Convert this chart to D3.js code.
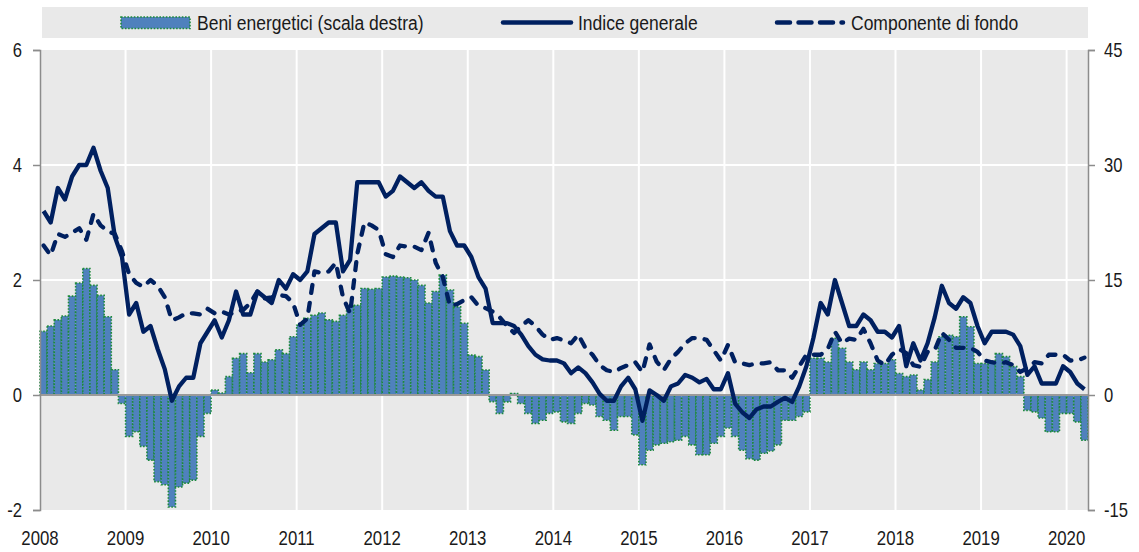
<!DOCTYPE html>
<html>
<head>
<meta charset="utf-8">
<script src="https://cdn.jsdelivr.net/npm/d3@7"></script>
<style>
body { margin: 0; background: #fff; }
text { font-family: "Liberation Sans", Arial, sans-serif; fill: #1a1a1a; }
</style>
</head>
<body>
<svg id="chart" width="1139" height="552"></svg>
<script>
// monthly data, Jan 2008 - Mar 2020 (one row per year)
var indiceGenerale = [
  3.2, 3.0, 3.6, 3.4, 3.8, 4.0, 4.0, 4.3, 3.9, 3.6, 2.75, 2.4,
  1.4, 1.6, 1.1, 1.2, 0.8, 0.45, -0.1, 0.15, 0.3, 0.3, 0.9, 1.1,
  1.3, 1.0, 1.3, 1.8, 1.4, 1.4, 1.8, 1.7, 1.6, 2.0, 1.85, 2.1,
  2.0, 2.15, 2.8, 2.9, 3.0, 3.0, 2.15, 2.35, 3.7, 3.7, 3.7, 3.7,
  3.45, 3.55, 3.8, 3.7, 3.6, 3.7, 3.55, 3.45, 3.45, 2.85, 2.6, 2.6,
  2.4, 2.05, 1.85, 1.25, 1.25, 1.25, 1.2, 1.05, 0.85, 0.7, 0.62, 0.6,
  0.6, 0.55, 0.38, 0.48, 0.38, 0.22, 0.02, -0.1, -0.1, 0.15, 0.3, 0.1,
  -0.45, 0.08, 0.0, -0.1, 0.15, 0.2, 0.35, 0.3, 0.22, 0.28, 0.1, 0.1,
  0.38, -0.15, -0.3, -0.4, -0.25, -0.2, -0.2, -0.12, -0.05, -0.12, 0.15, 0.5,
  1.0, 1.6, 1.4, 2.0, 1.6, 1.2, 1.2, 1.4, 1.3, 1.1, 1.1, 1.0,
  1.2, 0.5, 0.9, 0.6, 0.9, 1.35, 1.9, 1.6, 1.5, 1.7, 1.6, 1.2,
  0.9, 1.1, 1.1, 1.1, 1.05, 0.85, 0.35, 0.5, 0.2, 0.2, 0.2, 0.5,
  0.4, 0.2, 0.1
];
var componenteFondo = [
  2.6, 2.43, 2.8, 2.75, 2.82, 2.9, 2.7, 3.15, 2.95, 2.85, 2.8, 2.5,
  2.1, 1.95, 1.88, 2.0, 1.9, 1.7, 1.3, 1.35, 1.42, 1.42, 1.4, 1.5,
  1.42, 1.45, 1.4, 1.45, 1.48, 1.6, 1.8, 1.68, 1.7, 1.74, 1.72, 1.6,
  1.22, 1.33, 2.15, 2.12, 2.15, 2.3, 1.7, 1.42, 2.45, 3.0, 2.95, 2.87,
  2.45, 2.4, 2.6, 2.58, 2.58, 2.52, 2.82, 2.3, 2.05, 1.55, 1.58, 1.65,
  1.7, 1.55, 1.51, 1.45, 1.35, 1.2, 1.08, 1.2, 1.3, 1.2, 1.05, 0.96,
  0.99, 0.95, 0.9, 1.05, 0.82, 0.7, 0.52, 0.43, 0.4, 0.47, 0.52, 0.57,
  0.4, 0.88, 0.58, 0.43, 0.63, 0.75, 0.9, 0.99, 0.99, 0.96, 0.78, 0.6,
  0.87, 0.57, 0.55, 0.52, 0.55, 0.55, 0.57, 0.43, 0.43, 0.3, 0.5, 0.7,
  0.7, 0.7, 0.8, 1.1, 0.9, 0.98, 0.96, 1.15, 0.9, 0.6, 0.52, 0.7,
  0.8, 0.73, 0.52, 0.49, 0.75, 0.78, 1.08, 0.96, 0.82, 0.82, 0.82, 0.75,
  0.6, 0.57, 0.55, 0.57, 0.52, 0.4, 0.47, 0.57, 0.55, 0.7, 0.7, 0.7,
  0.6, 0.6, 0.65
];
// scala destra
var beniEnergetici = [
  8.3, 9.0, 9.8, 10.3, 12.9, 14.6, 16.5, 14.3, 13.0, 10.2, 3.3, -1.1,
  -5.4, -4.8, -6.7, -8.5, -11.3, -11.7, -14.6, -12.0, -11.5, -11.1, -5.4, -2.4,
  0.65, 0.26, 2.4, 4.8, 5.4, 2.9, 5.4, 4.3, 4.6, 5.9, 5.4, 7.6,
  9.1, 10.0, 10.4, 10.7, 9.8, 9.6, 10.4, 11.5, 11.7, 13.9, 13.8, 13.9,
  15.4, 15.5, 15.4, 15.3, 15.0, 14.3, 12.0, 13.5, 15.65, 13.7, 11.5, 9.35,
  5.2, 5.0, 3.26, -0.87, -2.4, -0.9, 0.2, -1.1, -2.4, -3.7, -3.3, -2.4,
  -2.2, -3.5, -3.7, -2.4, -1.1, -1.3, -2.8, -3.3, -4.6, -2.8, -2.8, -5.2,
  -9.1, -7.2, -6.5, -6.3, -6.1, -5.9, -5.4, -6.5, -7.8, -7.8, -6.3, -5.4,
  -4.3, -5.4, -7.2, -8.3, -8.5, -7.6, -7.3, -6.5, -3.3, -3.3, -2.8, -2.2,
  4.8, 4.8, 4.3, 7.4, 6.1, 4.3, 3.3, 4.3, 3.3, 4.1, 4.1, 4.6,
  2.8, 2.4, 2.6, 0.65, 2.0, 4.3, 7.6, 7.8, 7.6, 10.2, 8.9, 4.1,
  4.1, 4.3, 5.4, 5.0, 3.7, 2.4, -2.0, -2.2, -3.0, -4.8, -4.8, -2.4,
  -2.4, -3.5, -5.9
];
var yearLabels = ["2008","2009","2010","2011","2012","2013","2014","2015","2016","2017","2018","2019","2020"];
var leftTicks = [-2, 0, 2, 4, 6];
var rightTicks = [-15, 0, 15, 30, 45];
var legendLabels = ["Beni energetici (scala destra)", "Indice generale", "Componente di fondo"];

var navy = "#002060", barFill = "#4f81bd", barDots = "#1d8a3a", bg = "#e9e9e9";

var svg = d3.select("#chart");
var plot = {left: 40, right: 1088, top: 50, bottom: 510};

// 147 months (Jan 2008 - Mar 2020) fill the plot width
var x = d3.scaleBand().domain(d3.range(beniEnergetici.length)).range([plot.left, plot.right]).padding(0);
var yL = d3.scaleLinear().domain([-2, 6]).range([plot.bottom, plot.top]);
var yR = d3.scaleLinear().domain([-15, 45]).range([plot.bottom, plot.top]);

// condensed text (Arial Narrow look)
function narrow(g, px, py, anchor, str, sx, size) {
  return g.append("text")
    .attr("transform", "translate(" + px + "," + py + ") scale(" + sx + ",1)")
    .attr("text-anchor", anchor)
    .attr("font-size", size || 20)
    .text(str);
}

// legend band
svg.append("rect").attr("x", 42).attr("y", 7).attr("width", 1046).attr("height", 31).attr("fill", bg);

// plot background
svg.append("rect").attr("x", plot.left).attr("y", plot.top)
  .attr("width", plot.right - plot.left).attr("height", plot.bottom - plot.top).attr("fill", bg);

// gridlines
svg.append("g").selectAll("line").data([2, 4])
  .enter().append("line")
  .attr("x1", plot.left).attr("x2", plot.right)
  .attr("y1", function(d){ return yL(d); }).attr("y2", function(d){ return yL(d); })
  .attr("stroke", "#fff").attr("stroke-width", 2);
svg.append("g").selectAll("line").data(yearLabels.slice(1))
  .enter().append("line")
  .attr("x1", function(d, i){ return x((i + 1) * 12); }).attr("x2", function(d, i){ return x((i + 1) * 12); })
  .attr("y1", plot.top).attr("y2", plot.bottom)
  .attr("stroke", "#fff").attr("stroke-width", 2);

// bars (right scale)
svg.append("g").selectAll("rect").data(beniEnergetici)
  .enter().append("rect")
  .attr("x", function(d, i){ return x(i); })
  .attr("width", x.bandwidth())
  .attr("y", function(d){ return yR(Math.max(0, d)); })
  .attr("height", function(d){ return Math.abs(yR(d) - yR(0)); })
  .attr("fill", barFill)
  .attr("stroke", barDots).attr("stroke-width", 1.6).attr("stroke-dasharray", "1.6,1.6");

// zero line
svg.append("line").attr("x1", plot.left).attr("x2", plot.right)
  .attr("y1", yL(0)).attr("y2", yL(0)).attr("stroke", "#9a9a9a").attr("stroke-width", 2);

// lines
var line = d3.line()
  .x(function(d, i){ return x(i) + x.bandwidth() / 2; })
  .y(function(d){ return yL(d); });

svg.append("path").datum(componenteFondo)
  .attr("d", line).attr("fill", "none").attr("stroke", navy)
  .attr("stroke-width", 4.3).attr("stroke-linecap", "round").attr("stroke-linejoin", "round")
  .attr("stroke-dasharray", "8,10");
svg.append("path").datum(indiceGenerale)
  .attr("d", line).attr("fill", "none").attr("stroke", navy)
  .attr("stroke-width", 4.3).attr("stroke-linejoin", "round");

// axes (lines and ticks; labels drawn below)
var gL = svg.append("g").attr("transform", "translate(" + plot.left + ",0)")
  .call(d3.axisLeft(yL).tickValues(leftTicks).tickSize(7).tickFormat(""));
var gR = svg.append("g").attr("transform", "translate(" + plot.right + ",0)")
  .call(d3.axisRight(yR).tickValues(rightTicks).tickSize(7).tickFormat(""));
[gL, gR].forEach(function(g){
  g.select(".domain").attr("stroke", "#8c8c8c").attr("stroke-width", 1.5);
  g.selectAll(".tick line").attr("stroke", "#8c8c8c").attr("stroke-width", 1.5);
});

var labels = svg.append("g");
leftTicks.forEach(function(d){ narrow(labels, 22, yL(d) + 7, "end", String(d), 0.83); });
rightTicks.forEach(function(d){ narrow(labels, 1104, yR(d) + 7, "start", String(d), 0.83); });
yearLabels.forEach(function(d, i){ narrow(labels, x(i * 12), 545, "middle", d, 0.8, 21); });

// legend
var lg = svg.append("g");
lg.append("rect").attr("x", 121).attr("y", 17).attr("width", 69).attr("height", 11.5)
  .attr("fill", barFill).attr("stroke", barDots).attr("stroke-width", 1.6).attr("stroke-dasharray", "1.6,1.6");
narrow(lg, 197, 29.5, "start", legendLabels[0], 0.875);
lg.append("line").attr("x1", 503).attr("x2", 571).attr("y1", 22.5).attr("y2", 22.5)
  .attr("stroke", navy).attr("stroke-width", 4.5).attr("stroke-linecap", "round");
narrow(lg, 578, 29.5, "start", legendLabels[1], 0.875);
lg.append("line").attr("x1", 777).attr("x2", 843).attr("y1", 22.5).attr("y2", 22.5)
  .attr("stroke", navy).attr("stroke-width", 4.5).attr("stroke-linecap", "round")
  .attr("stroke-dasharray", "13,8.5");
narrow(lg, 851, 29.5, "start", legendLabels[2], 0.875);
</script>
</body>
</html>
